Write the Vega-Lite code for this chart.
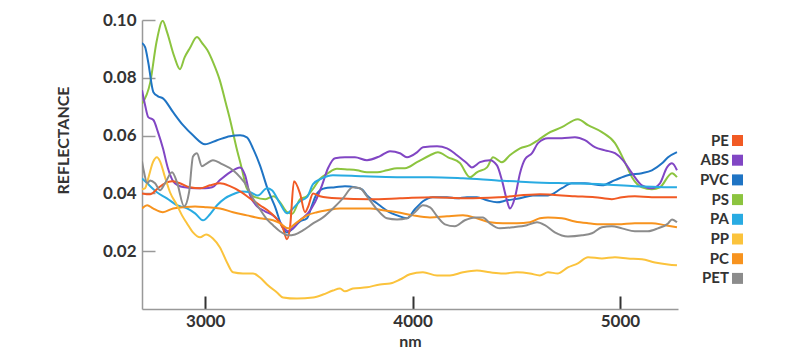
{
  "$schema": "https://vega.github.io/schema/vega-lite/v6.json",
  "width": 536,
  "height": 289,
  "autosize": {"type": "none"},
  "padding": {"left": 142, "top": 20, "right": 122, "bottom": 46},
  "background": "white",
  "config": {
    "view": {"stroke": null},
    "font": "Lato",
    "axis": {"grid": false, "labelFont": "Lato", "titleFont": "Lato", "labelFontWeight": "bold", "titleFontWeight": "bold", "labelColor": "#333", "titleColor": "#333", "domainColor": "#999", "domainWidth": 1.5}
  },
  "datasets": {
    "spectra": [
      {"s":"PS","x":2695,"y":0.0710},{"s":"PS","x":2735,"y":0.0785},{"s":"PS","x":2765,"y":0.0924},{"s":"PS","x":2795,"y":0.0997},{"s":"PS","x":2815,"y":0.0960},{"s":"PS","x":2850,"y":0.0875},{"s":"PS","x":2878,"y":0.0830},{"s":"PS","x":2900,"y":0.0870},{"s":"PS","x":2926,"y":0.0903},{"s":"PS","x":2960,"y":0.0941},{"s":"PS","x":2985,"y":0.0920},{"s":"PS","x":3010,"y":0.0896},{"s":"PS","x":3040,"y":0.0850},{"s":"PS","x":3070,"y":0.0792},{"s":"PS","x":3100,"y":0.0710},{"s":"PS","x":3120,"y":0.0654},{"s":"PS","x":3150,"y":0.0560},{"s":"PS","x":3175,"y":0.0490},{"s":"PS","x":3200,"y":0.0418},{"s":"PS","x":3240,"y":0.0387},{"s":"PS","x":3290,"y":0.0380},{"s":"PS","x":3330,"y":0.0390},{"s":"PS","x":3360,"y":0.0370},{"s":"PS","x":3395,"y":0.0335},{"s":"PS","x":3420,"y":0.0330},{"s":"PS","x":3457,"y":0.0380},{"s":"PS","x":3490,"y":0.0390},{"s":"PS","x":3515,"y":0.0411},{"s":"PS","x":3553,"y":0.0450},{"s":"PS","x":3592,"y":0.0470},{"s":"PS","x":3635,"y":0.0485},{"s":"PS","x":3684,"y":0.0483},{"s":"PS","x":3732,"y":0.0480},{"s":"PS","x":3780,"y":0.0473},{"s":"PS","x":3830,"y":0.0473},{"s":"PS","x":3876,"y":0.0480},{"s":"PS","x":3925,"y":0.0487},{"s":"PS","x":3963,"y":0.0487},{"s":"PS","x":4021,"y":0.0508},{"s":"PS","x":4084,"y":0.0532},{"s":"PS","x":4122,"y":0.0542},{"s":"PS","x":4171,"y":0.0525},{"s":"PS","x":4228,"y":0.0505},{"s":"PS","x":4277,"y":0.0456},{"s":"PS","x":4310,"y":0.0473},{"s":"PS","x":4359,"y":0.0490},{"s":"PS","x":4388,"y":0.0525},{"s":"PS","x":4431,"y":0.0508},{"s":"PS","x":4469,"y":0.0532},{"s":"PS","x":4518,"y":0.0556},{"s":"PS","x":4566,"y":0.0567},{"s":"PS","x":4605,"y":0.0584},{"s":"PS","x":4653,"y":0.0608},{"s":"PS","x":4720,"y":0.0629},{"s":"PS","x":4797,"y":0.0657},{"s":"PS","x":4846,"y":0.0636},{"s":"PS","x":4913,"y":0.0612},{"s":"PS","x":4976,"y":0.0574},{"s":"PS","x":5024,"y":0.0508},{"s":"PS","x":5058,"y":0.0456},{"s":"PS","x":5106,"y":0.0421},{"s":"PS","x":5154,"y":0.0414},{"s":"PS","x":5193,"y":0.0421},{"s":"PS","x":5251,"y":0.0470},{"s":"PS","x":5275,"y":0.0456},

      {"s":"PVC","x":2695,"y":0.0920},{"s":"PVC","x":2710,"y":0.0906},{"s":"PVC","x":2725,"y":0.0854},{"s":"PVC","x":2750,"y":0.0750},{"s":"PVC","x":2772,"y":0.0736},{"s":"PVC","x":2796,"y":0.0729},{"s":"PVC","x":2845,"y":0.0681},{"s":"PVC","x":2893,"y":0.0636},{"s":"PVC","x":2941,"y":0.0601},{"s":"PVC","x":2999,"y":0.0570},{"s":"PVC","x":3057,"y":0.0584},{"s":"PVC","x":3119,"y":0.0598},{"s":"PVC","x":3168,"y":0.0601},{"s":"PVC","x":3201,"y":0.0594},{"s":"PVC","x":3230,"y":0.0556},{"s":"PVC","x":3264,"y":0.0497},{"s":"PVC","x":3303,"y":0.0411},{"s":"PVC","x":3336,"y":0.0355},{"s":"PVC","x":3370,"y":0.0286},{"s":"PVC","x":3394,"y":0.0265},{"s":"PVC","x":3423,"y":0.0279},{"s":"PVC","x":3457,"y":0.0303},{"s":"PVC","x":3491,"y":0.0314},{"s":"PVC","x":3515,"y":0.0359},{"s":"PVC","x":3539,"y":0.0400},{"s":"PVC","x":3577,"y":0.0418},{"s":"PVC","x":3626,"y":0.0421},{"s":"PVC","x":3674,"y":0.0425},{"s":"PVC","x":3722,"y":0.0421},{"s":"PVC","x":3756,"y":0.0414},{"s":"PVC","x":3780,"y":0.0393},{"s":"PVC","x":3828,"y":0.0366},{"s":"PVC","x":3881,"y":0.0338},{"s":"PVC","x":3925,"y":0.0324},{"s":"PVC","x":3973,"y":0.0314},{"s":"PVC","x":4011,"y":0.0345},{"s":"PVC","x":4050,"y":0.0373},{"s":"PVC","x":4098,"y":0.0387},{"s":"PVC","x":4166,"y":0.0387},{"s":"PVC","x":4214,"y":0.0383},{"s":"PVC","x":4262,"y":0.0387},{"s":"PVC","x":4310,"y":0.0387},{"s":"PVC","x":4359,"y":0.0376},{"s":"PVC","x":4407,"y":0.0369},{"s":"PVC","x":4455,"y":0.0376},{"s":"PVC","x":4518,"y":0.0383},{"s":"PVC","x":4580,"y":0.0393},{"s":"PVC","x":4653,"y":0.0393},{"s":"PVC","x":4720,"y":0.0418},{"s":"PVC","x":4768,"y":0.0435},{"s":"PVC","x":4831,"y":0.0435},{"s":"PVC","x":4913,"y":0.0428},{"s":"PVC","x":4976,"y":0.0446},{"s":"PVC","x":5038,"y":0.0463},{"s":"PVC","x":5106,"y":0.0470},{"s":"PVC","x":5154,"y":0.0480},{"s":"PVC","x":5203,"y":0.0504},{"s":"PVC","x":5232,"y":0.0525},{"s":"PVC","x":5275,"y":0.0543},

      {"s":"ABS","x":2695,"y":0.0757},{"s":"ABS","x":2710,"y":0.0705},{"s":"ABS","x":2725,"y":0.0664},{"s":"ABS","x":2750,"y":0.0654},{"s":"ABS","x":2772,"y":0.0612},{"s":"ABS","x":2796,"y":0.0556},{"s":"ABS","x":2820,"y":0.0487},{"s":"ABS","x":2845,"y":0.0442},{"s":"ABS","x":2869,"y":0.0428},{"s":"ABS","x":2902,"y":0.0421},{"s":"ABS","x":2951,"y":0.0418},{"s":"ABS","x":2999,"y":0.0418},{"s":"ABS","x":3033,"y":0.0421},{"s":"ABS","x":3071,"y":0.0446},{"s":"ABS","x":3119,"y":0.0473},{"s":"ABS","x":3168,"y":0.0490},{"s":"ABS","x":3192,"y":0.0463},{"s":"ABS","x":3216,"y":0.0394},{"s":"ABS","x":3250,"y":0.0355},{"s":"ABS","x":3288,"y":0.0338},{"s":"ABS","x":3327,"y":0.0324},{"s":"ABS","x":3360,"y":0.0300},{"s":"ABS","x":3399,"y":0.0269},{"s":"ABS","x":3423,"y":0.0279},{"s":"ABS","x":3457,"y":0.0307},{"s":"ABS","x":3495,"y":0.0331},{"s":"ABS","x":3529,"y":0.0369},{"s":"ABS","x":3563,"y":0.0428},{"s":"ABS","x":3592,"y":0.0487},{"s":"ABS","x":3626,"y":0.0522},{"s":"ABS","x":3674,"y":0.0525},{"s":"ABS","x":3722,"y":0.0525},{"s":"ABS","x":3780,"y":0.0515},{"s":"ABS","x":3843,"y":0.0529},{"s":"ABS","x":3891,"y":0.0546},{"s":"ABS","x":3939,"y":0.0539},{"s":"ABS","x":3973,"y":0.0525},{"s":"ABS","x":4021,"y":0.0542},{"s":"ABS","x":4050,"y":0.0560},{"s":"ABS","x":4118,"y":0.0563},{"s":"ABS","x":4166,"y":0.0556},{"s":"ABS","x":4214,"y":0.0532},{"s":"ABS","x":4262,"y":0.0504},{"s":"ABS","x":4286,"y":0.0490},{"s":"ABS","x":4325,"y":0.0508},{"s":"ABS","x":4373,"y":0.0515},{"s":"ABS","x":4407,"y":0.0497},{"s":"ABS","x":4431,"y":0.0445},{"s":"ABS","x":4455,"y":0.0376},{"s":"ABS","x":4469,"y":0.0348},{"s":"ABS","x":4494,"y":0.0387},{"s":"ABS","x":4518,"y":0.0470},{"s":"ABS","x":4542,"y":0.0518},{"s":"ABS","x":4576,"y":0.0539},{"s":"ABS","x":4605,"y":0.0574},{"s":"ABS","x":4653,"y":0.0591},{"s":"ABS","x":4720,"y":0.0591},{"s":"ABS","x":4783,"y":0.0594},{"s":"ABS","x":4831,"y":0.0584},{"s":"ABS","x":4879,"y":0.0560},{"s":"ABS","x":4928,"y":0.0549},{"s":"ABS","x":4976,"y":0.0539},{"s":"ABS","x":5014,"y":0.0515},{"s":"ABS","x":5058,"y":0.0470},{"s":"ABS","x":5106,"y":0.0428},{"s":"ABS","x":5154,"y":0.0418},{"s":"ABS","x":5193,"y":0.0435},{"s":"ABS","x":5227,"y":0.0490},{"s":"ABS","x":5251,"y":0.0504},{"s":"ABS","x":5275,"y":0.0480},

      {"s":"PA","x":2695,"y":0.0452},{"s":"PA","x":2720,"y":0.0435},{"s":"PA","x":2767,"y":0.0404},{"s":"PA","x":2815,"y":0.0383},{"s":"PA","x":2864,"y":0.0359},{"s":"PA","x":2912,"y":0.0348},{"s":"PA","x":2951,"y":0.0331},{"s":"PA","x":2989,"y":0.0307},{"s":"PA","x":3023,"y":0.0328},{"s":"PA","x":3057,"y":0.0359},{"s":"PA","x":3095,"y":0.0383},{"s":"PA","x":3134,"y":0.0397},{"s":"PA","x":3177,"y":0.0407},{"s":"PA","x":3216,"y":0.0404},{"s":"PA","x":3254,"y":0.0393},{"s":"PA","x":3298,"y":0.0418},{"s":"PA","x":3322,"y":0.0411},{"s":"PA","x":3360,"y":0.0366},{"s":"PA","x":3394,"y":0.0331},{"s":"PA","x":3423,"y":0.0348},{"s":"PA","x":3457,"y":0.0373},{"s":"PA","x":3491,"y":0.0387},{"s":"PA","x":3520,"y":0.0432},{"s":"PA","x":3563,"y":0.0452},{"s":"PA","x":3616,"y":0.0463},{"s":"PA","x":3761,"y":0.0459},{"s":"PA","x":3925,"y":0.0456},{"s":"PA","x":4084,"y":0.0456},{"s":"PA","x":4243,"y":0.0452},{"s":"PA","x":4407,"y":0.0445},{"s":"PA","x":4566,"y":0.0439},{"s":"PA","x":4750,"y":0.0435},{"s":"PA","x":4913,"y":0.0432},{"s":"PA","x":5072,"y":0.0425},{"s":"PA","x":5275,"y":0.0421},

      {"s":"PE","x":2695,"y":0.0400},{"s":"PE","x":2734,"y":0.0397},{"s":"PE","x":2772,"y":0.0418},{"s":"PE","x":2806,"y":0.0435},{"s":"PE","x":2840,"y":0.0442},{"s":"PE","x":2878,"y":0.0435},{"s":"PE","x":2926,"y":0.0421},{"s":"PE","x":2975,"y":0.0418},{"s":"PE","x":3023,"y":0.0428},{"s":"PE","x":3071,"y":0.0435},{"s":"PE","x":3119,"y":0.0425},{"s":"PE","x":3168,"y":0.0407},{"s":"PE","x":3216,"y":0.0383},{"s":"PE","x":3264,"y":0.0359},{"s":"PE","x":3312,"y":0.0335},{"s":"PE","x":3351,"y":0.0307},{"s":"PE","x":3375,"y":0.0279},{"s":"PE","x":3394,"y":0.0241},{"s":"PE","x":3409,"y":0.0283},{"s":"PE","x":3428,"y":0.0442},{"s":"PE","x":3457,"y":0.0400},{"s":"PE","x":3481,"y":0.0335},{"s":"PE","x":3495,"y":0.0352},{"s":"PE","x":3520,"y":0.0400},{"s":"PE","x":3553,"y":0.0390},{"s":"PE","x":3635,"y":0.0383},{"s":"PE","x":3795,"y":0.0380},{"s":"PE","x":3939,"y":0.0383},{"s":"PE","x":4098,"y":0.0387},{"s":"PE","x":4262,"y":0.0383},{"s":"PE","x":4421,"y":0.0387},{"s":"PE","x":4614,"y":0.0397},{"s":"PE","x":4783,"y":0.0390},{"s":"PE","x":4879,"y":0.0387},{"s":"PE","x":4961,"y":0.0380},{"s":"PE","x":5010,"y":0.0387},{"s":"PE","x":5072,"y":0.0390},{"s":"PE","x":5154,"y":0.0387},{"s":"PE","x":5275,"y":0.0387},

      {"s":"PC","x":2695,"y":0.0348},{"s":"PC","x":2720,"y":0.0359},{"s":"PC","x":2748,"y":0.0348},{"s":"PC","x":2796,"y":0.0335},{"s":"PC","x":2845,"y":0.0348},{"s":"PC","x":2893,"y":0.0352},{"s":"PC","x":2951,"y":0.0355},{"s":"PC","x":3008,"y":0.0352},{"s":"PC","x":3071,"y":0.0348},{"s":"PC","x":3134,"y":0.0335},{"s":"PC","x":3201,"y":0.0324},{"s":"PC","x":3264,"y":0.0314},{"s":"PC","x":3327,"y":0.0307},{"s":"PC","x":3360,"y":0.0297},{"s":"PC","x":3399,"y":0.0279},{"s":"PC","x":3442,"y":0.0300},{"s":"PC","x":3491,"y":0.0324},{"s":"PC","x":3539,"y":0.0335},{"s":"PC","x":3587,"y":0.0342},{"s":"PC","x":3650,"y":0.0348},{"s":"PC","x":3732,"y":0.0348},{"s":"PC","x":3795,"y":0.0348},{"s":"PC","x":3857,"y":0.0342},{"s":"PC","x":3925,"y":0.0335},{"s":"PC","x":4002,"y":0.0324},{"s":"PC","x":4084,"y":0.0317},{"s":"PC","x":4166,"y":0.0321},{"s":"PC","x":4243,"y":0.0324},{"s":"PC","x":4310,"y":0.0314},{"s":"PC","x":4373,"y":0.0300},{"s":"PC","x":4436,"y":0.0297},{"s":"PC","x":4503,"y":0.0297},{"s":"PC","x":4566,"y":0.0300},{"s":"PC","x":4614,"y":0.0314},{"s":"PC","x":4653,"y":0.0317},{"s":"PC","x":4720,"y":0.0314},{"s":"PC","x":4783,"y":0.0303},{"s":"PC","x":4846,"y":0.0297},{"s":"PC","x":4913,"y":0.0293},{"s":"PC","x":4990,"y":0.0293},{"s":"PC","x":5072,"y":0.0297},{"s":"PC","x":5154,"y":0.0297},{"s":"PC","x":5217,"y":0.0290},{"s":"PC","x":5275,"y":0.0283},

      {"s":"PP","x":2695,"y":0.0414},{"s":"PP","x":2710,"y":0.0418},{"s":"PP","x":2725,"y":0.0452},{"s":"PP","x":2748,"y":0.0508},{"s":"PP","x":2767,"y":0.0525},{"s":"PP","x":2782,"y":0.0511},{"s":"PP","x":2806,"y":0.0456},{"s":"PP","x":2830,"y":0.0404},{"s":"PP","x":2864,"y":0.0359},{"s":"PP","x":2888,"y":0.0324},{"s":"PP","x":2912,"y":0.0296},{"s":"PP","x":2941,"y":0.0265},{"s":"PP","x":2975,"y":0.0248},{"s":"PP","x":3004,"y":0.0258},{"s":"PP","x":3037,"y":0.0244},{"s":"PP","x":3071,"y":0.0213},{"s":"PP","x":3105,"y":0.0161},{"s":"PP","x":3134,"y":0.0127},{"s":"PP","x":3182,"y":0.0123},{"s":"PP","x":3230,"y":0.0123},{"s":"PP","x":3264,"y":0.0109},{"s":"PP","x":3298,"y":0.0085},{"s":"PP","x":3346,"y":0.0057},{"s":"PP","x":3375,"y":0.0040},{"s":"PP","x":3442,"y":0.0036},{"s":"PP","x":3520,"y":0.0040},{"s":"PP","x":3568,"y":0.0050},{"s":"PP","x":3616,"y":0.0064},{"s":"PP","x":3650,"y":0.0071},{"s":"PP","x":3674,"y":0.0061},{"s":"PP","x":3712,"y":0.0071},{"s":"PP","x":3780,"y":0.0075},{"s":"PP","x":3843,"y":0.0085},{"s":"PP","x":3891,"y":0.0088},{"s":"PP","x":3939,"y":0.0102},{"s":"PP","x":3987,"y":0.0120},{"s":"PP","x":4050,"y":0.0127},{"s":"PP","x":4118,"y":0.0116},{"s":"PP","x":4180,"y":0.0116},{"s":"PP","x":4243,"y":0.0127},{"s":"PP","x":4310,"y":0.0133},{"s":"PP","x":4373,"y":0.0127},{"s":"PP","x":4436,"y":0.0123},{"s":"PP","x":4503,"y":0.0127},{"s":"PP","x":4566,"y":0.0123},{"s":"PP","x":4614,"y":0.0116},{"s":"PP","x":4653,"y":0.0127},{"s":"PP","x":4701,"y":0.0123},{"s":"PP","x":4749,"y":0.0144},{"s":"PP","x":4797,"y":0.0158},{"s":"PP","x":4846,"y":0.0179},{"s":"PP","x":4913,"y":0.0175},{"s":"PP","x":4976,"y":0.0179},{"s":"PP","x":5038,"y":0.0175},{"s":"PP","x":5106,"y":0.0172},{"s":"PP","x":5169,"y":0.0161},{"s":"PP","x":5232,"y":0.0154},{"s":"PP","x":5275,"y":0.0151},

      {"s":"PET","x":2695,"y":0.0511},{"s":"PET","x":2705,"y":0.0473},{"s":"PET","x":2720,"y":0.0435},{"s":"PET","x":2734,"y":0.0445},{"s":"PET","x":2758,"y":0.0435},{"s":"PET","x":2782,"y":0.0411},{"s":"PET","x":2806,"y":0.0435},{"s":"PET","x":2840,"y":0.0473},{"s":"PET","x":2864,"y":0.0438},{"s":"PET","x":2898,"y":0.0355},{"s":"PET","x":2922,"y":0.0404},{"s":"PET","x":2941,"y":0.0528},{"s":"PET","x":2960,"y":0.0539},{"s":"PET","x":2984,"y":0.0494},{"s":"PET","x":3008,"y":0.0504},{"s":"PET","x":3037,"y":0.0515},{"s":"PET","x":3081,"y":0.0501},{"s":"PET","x":3134,"y":0.0480},{"s":"PET","x":3168,"y":0.0456},{"s":"PET","x":3201,"y":0.0425},{"s":"PET","x":3230,"y":0.0383},{"s":"PET","x":3264,"y":0.0345},{"s":"PET","x":3298,"y":0.0310},{"s":"PET","x":3327,"y":0.0290},{"s":"PET","x":3360,"y":0.0269},{"s":"PET","x":3399,"y":0.0255},{"s":"PET","x":3433,"y":0.0258},{"s":"PET","x":3471,"y":0.0272},{"s":"PET","x":3520,"y":0.0296},{"s":"PET","x":3568,"y":0.0317},{"s":"PET","x":3616,"y":0.0348},{"s":"PET","x":3664,"y":0.0383},{"s":"PET","x":3712,"y":0.0421},{"s":"PET","x":3746,"y":0.0418},{"s":"PET","x":3780,"y":0.0390},{"s":"PET","x":3828,"y":0.0345},{"s":"PET","x":3876,"y":0.0314},{"s":"PET","x":3925,"y":0.0310},{"s":"PET","x":3973,"y":0.0314},{"s":"PET","x":4011,"y":0.0335},{"s":"PET","x":4050,"y":0.0359},{"s":"PET","x":4084,"y":0.0352},{"s":"PET","x":4118,"y":0.0321},{"s":"PET","x":4156,"y":0.0293},{"s":"PET","x":4204,"y":0.0286},{"s":"PET","x":4252,"y":0.0307},{"s":"PET","x":4301,"y":0.0317},{"s":"PET","x":4339,"y":0.0317},{"s":"PET","x":4373,"y":0.0296},{"s":"PET","x":4421,"y":0.0279},{"s":"PET","x":4484,"y":0.0283},{"s":"PET","x":4551,"y":0.0290},{"s":"PET","x":4600,"y":0.0300},{"s":"PET","x":4638,"y":0.0290},{"s":"PET","x":4686,"y":0.0265},{"s":"PET","x":4749,"y":0.0251},{"s":"PET","x":4817,"y":0.0255},{"s":"PET","x":4865,"y":0.0262},{"s":"PET","x":4913,"y":0.0283},{"s":"PET","x":4961,"y":0.0286},{"s":"PET","x":5010,"y":0.0279},{"s":"PET","x":5072,"y":0.0269},{"s":"PET","x":5135,"y":0.0269},{"s":"PET","x":5183,"y":0.0279},{"s":"PET","x":5232,"y":0.0296},{"s":"PET","x":5251,"y":0.0310},{"s":"PET","x":5275,"y":0.0300}
    ]
  },
  "data": {"name": "spectra"},
  "mark": {"type": "line", "strokeWidth": 2, "interpolate": "monotone", "clip": true},
  "encoding": {
    "x": {
      "field": "x", "type": "quantitative",
      "scale": {"domain": [2695, 5280], "nice": false, "zero": false},
      "axis": {"title": "nm", "values": [3000, 4000, 5000], "format": "d", "labelFontSize": 17, "titleFontSize": 16, "tickSize": -13, "tickColor": "#333", "tickWidth": 2, "labelPadding": 17, "titleBaseline": "alphabetic", "titleY": 37, "titleX": 268}
    },
    "y": {
      "field": "y", "type": "quantitative",
      "scale": {"domain": [0, 0.1], "nice": false},
      "axis": {"title": "REFLECTANCE", "values": [0.02, 0.04, 0.06, 0.08, 0.1], "format": ".2f", "labelFontSize": 17, "titleFontSize": 16, "tickSize": -13, "tickColor": "#999", "tickWidth": 1.5, "labelPadding": 19, "titleAngle": -90, "titleX": -79, "titleY": 120, "titleAlign": "center", "titleBaseline": "middle"}
    },
    "color": {
      "field": "s", "type": "nominal",
      "scale": {"domain": ["PE", "ABS", "PVC", "PS", "PA", "PP", "PC", "PET"], "range": ["#f15a24", "#8146c4", "#1f74c4", "#8cc43f", "#29abe2", "#fbc33c", "#f7931e", "#8c8c8c"]},
      "legend": {
        "title": null, "orient": "none", "legendX": 588, "legendY": 113, "padding": 0,
        "symbolType": "square", "symbolSize": 121, "symbolStrokeWidth": 0,
        "labelAlign": "right", "labelOffset": -16, "labelFont": "Lato", "labelFontSize": 15, "labelFontWeight": "bold", "labelColor": "#333", "rowPadding": 3.7,
        "encode": {"symbols": {"update": {"fill": {"scale": "color", "field": "value"}, "strokeWidth": {"value": 0}}}}
      }
    }
  }
}
